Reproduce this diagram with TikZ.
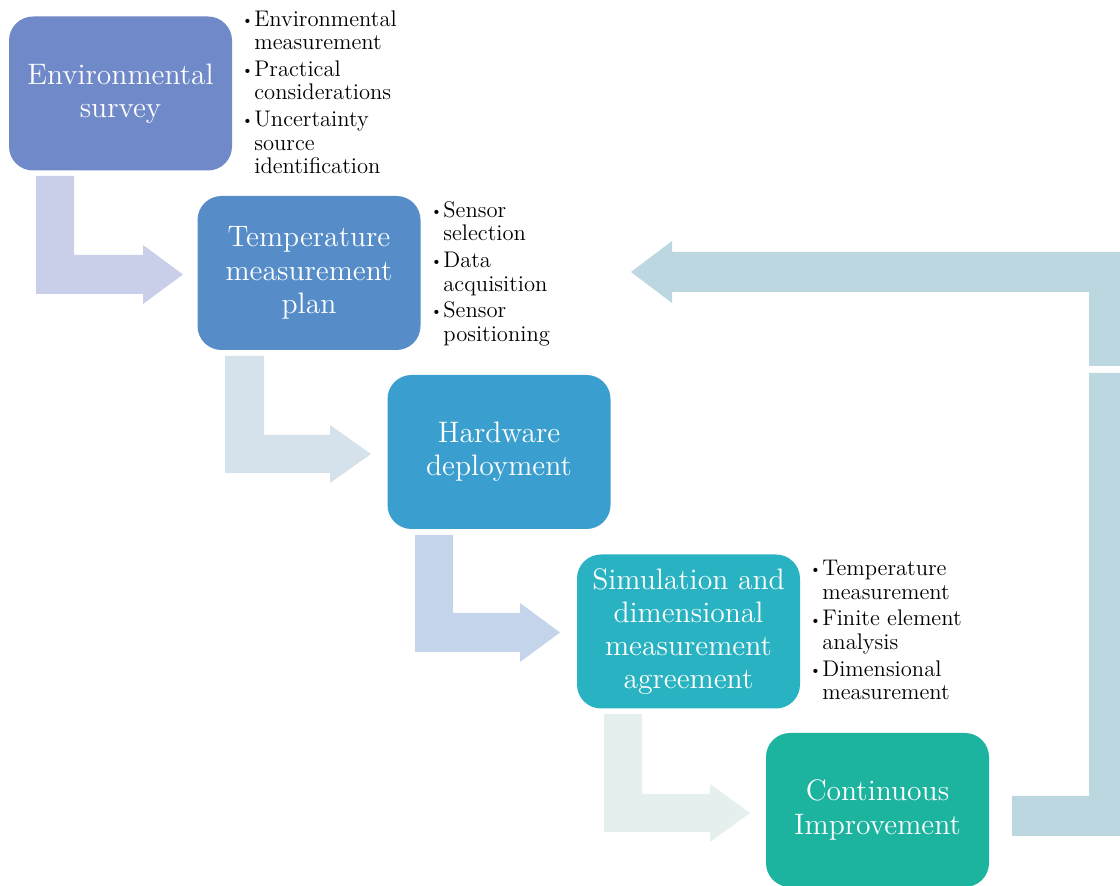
\documentclass[tikz,border=0pt]{standalone}
\usepackage{xcolor}
\definecolor{cEnv}{HTML}{7089C8}
\definecolor{cPlan}{HTML}{568DC9}
\definecolor{cHw}{HTML}{3A9FCE}
\definecolor{cSim}{HTML}{29B2C1}
\definecolor{cImp}{HTML}{1CB39F}
\definecolor{aOne}{HTML}{C9CFE9}
\definecolor{aTwo}{HTML}{D5E1EB}
\definecolor{aThree}{HTML}{C4D4EA}
\definecolor{aFour}{HTML}{E4EFEE}
\definecolor{aBack}{HTML}{BDD7E0}
% small raised bullet followed by the item text
\newcommand{\bitem}{\makebox[6.5pt][l]{\raisebox{0.18ex}{\scriptsize\textbullet}}}
\newcommand{\bskip}{\hphantom{\bitem}}
\tikzset{
  stepbox/.style={rounded corners=12pt, minimum width=111.5pt, minimum height=77pt,
    text=white, align=center, inner sep=0pt,
    font=\fontsize{14.8}{16.6}\selectfont},
  notes/.style={anchor=north west, align=left, inner sep=0pt, text=black,
    font=\fontsize{11.3}{11.8}\selectfont}
}
\begin{document}
\begin{tikzpicture}[x=0.5pt, y=-0.5pt]
\useasboundingbox (0,0) rectangle (1120,886);

% bent arrows between the steps
\fill[aOne] (36,176) -- (74,176) -- (74,255) -- (143,255) -- (143,245) -- (183,274.5)
  -- (143,304) -- (143,294) -- (36,294) -- cycle;
\fill[aTwo] (225,356) -- (264,356) -- (264,435) -- (330,435) -- (330,425) -- (371,454)
  -- (330,483) -- (330,473) -- (225,473) -- cycle;
\fill[aThree] (415,535) -- (453,535) -- (453,613) -- (520,613) -- (520,603) -- (560,632.5)
  -- (520,662) -- (520,652) -- (415,652) -- cycle;
\fill[aFour] (604,714) -- (642,714) -- (642,794) -- (710,794) -- (710,784) -- (750,813)
  -- (710,842) -- (710,832) -- (604,832) -- cycle;

% feedback loop back to the plan
\fill[aBack] (1012,796) -- (1089,796) -- (1089,373) -- (1120,373) -- (1120,836)
  -- (1012,836) -- cycle;
\fill[aBack] (1120,252) -- (1120,366) -- (1089,366) -- (1089,292) -- (672,292)
  -- (672,303) -- (631,272) -- (672,241) -- (672,252) -- cycle;

% steps
\node[stepbox, fill=cEnv] (env) at (120.5,93.5) {Environmental\\survey};
\node[stepbox, fill=cPlan] (plan) at (309,273) {Temperature\\measurement\\plan};
\node[stepbox, fill=cHw] (hw) at (499,452) {Hardware\\deployment};
\node[stepbox, fill=cSim] (sim) at (688.5,631.5) {Simulation and\\dimensional\\measurement\\agreement};
\node[stepbox, fill=cImp] (imp) at (877.5,810) {Continuous\\Improvement};

% notes beside the steps
\node[notes] (envnotes) at (241,10) {\bitem Environmental\\\bskip measurement\\[1.5pt]
  \bitem Practical\\\bskip considerations\\[1.5pt]
  \bitem Uncertainty\\\bskip source\\\bskip identification};
\node[notes] (plannotes) at (430,201) {\bitem Sensor\\\bskip selection\\[1.5pt]
  \bitem Data\\\bskip acquisition\\[1.5pt]
  \bitem Sensor\\\bskip positioning};
\node[notes] (simnotes) at (809,560) {\bitem Temperature\\\bskip measurement\\[1.5pt]
  \bitem Finite element\\\bskip analysis\\[1.5pt]
  \bitem Dimensional\\\bskip measurement};
\end{tikzpicture}
\end{document}
